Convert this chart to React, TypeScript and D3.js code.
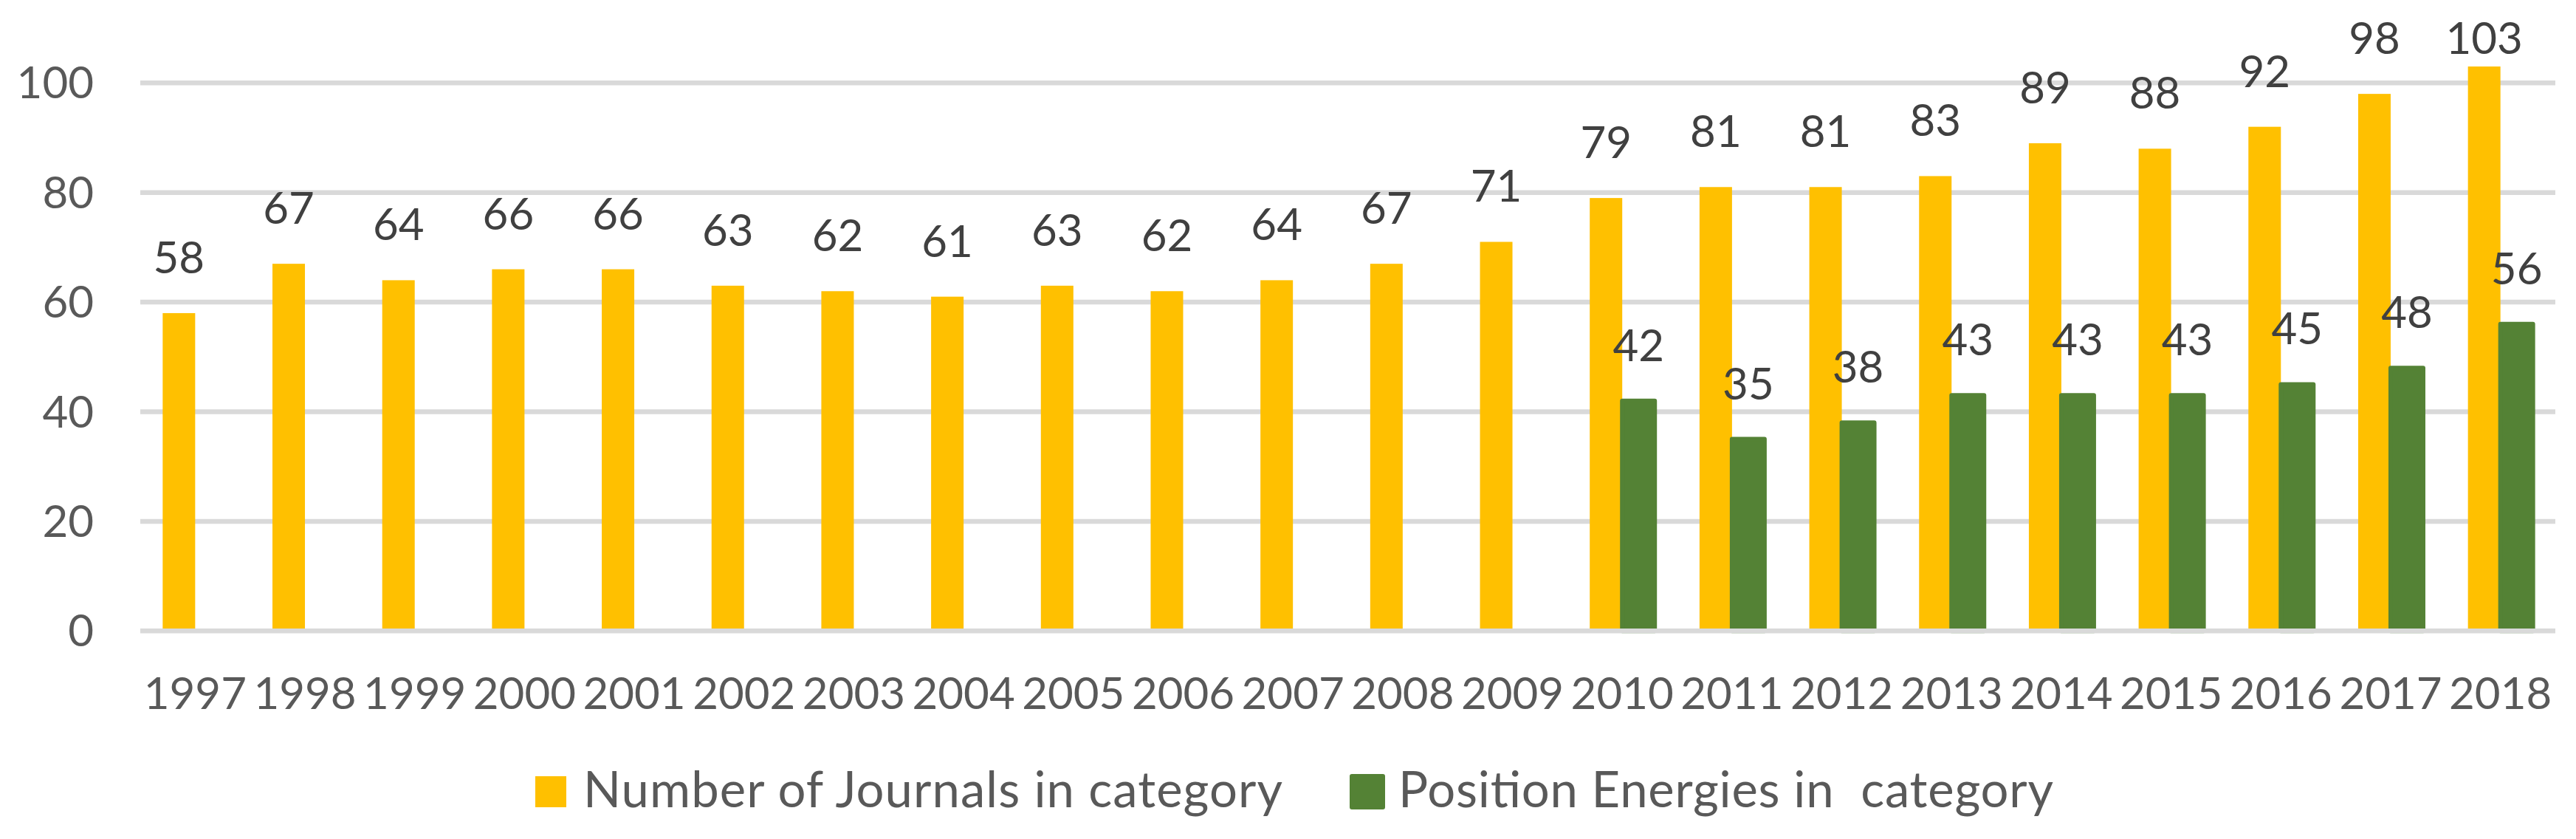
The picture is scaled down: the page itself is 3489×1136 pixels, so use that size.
import React from "react";
import * as d3 from "d3";

const years = ["1997","1998","1999","2000","2001","2002","2003","2004","2005","2006","2007","2008","2009","2010","2011","2012","2013","2014","2015","2016","2017","2018"];
const journals = [58,67,64,66,66,63,62,61,63,62,64,67,71,79,81,81,83,89,88,92,98,103];
const energies: (number | null)[] = [null,null,null,null,null,null,null,null,null,null,null,null,null,42,35,38,43,43,43,45,48,56];
const yTicks = [0,20,40,60,80,100];
const seriesNames = ["Number of Journals in category", "Position Energies in  category"];
const seriesColors = ["#FFC000", "#548235"];

const W = 3489, H = 1136;
const FONT = "Lato, 'Open Sans', sans-serif";

export default function App() {
  const x = d3.scaleBand<string>().domain(years).range([190, 3461]).padding(0);
  const bw = x.bandwidth();
  const barW = 44;
  const inner = d3.scaleBand<number>().domain([0, 1]).range([bw / 2 - barW, bw / 2 + barW]).padding(0);
  const y = d3.scaleLinear().domain([0, 100]).range([854.3, 112.3]);
  const labelY = (v: number) => Math.max(y(v) - 54, 73);

  return (
    <svg width={W} height={H} style={{ position: "absolute", left: 0, top: 0, background: "#fff" }} fontFamily={FONT}>
      <rect x={0} y={0} width={W} height={H} fill="#fff" />
      {yTicks.filter(t => t !== 0).map(t => (
        <line key={t} x1={190} x2={3461} y1={y(t)} y2={y(t)} stroke="#D9D9D9" strokeWidth={6.5} />
      ))}
      {yTicks.map(t => (
        <text key={"yl" + t} x={127} y={y(t) + 21} textAnchor="end" fontSize={60} fill="#595959">{t}</text>
      ))}
      {years.map((yr, i) => (
        <rect key={"j" + yr} x={(x(yr) as number) + (inner(0) as number)} y={y(journals[i])} width={inner.bandwidth()} height={y(0) - y(journals[i])} fill={seriesColors[0]} />
      ))}
      {years.map((yr, i) => energies[i] == null ? null : (
        <rect key={"e" + yr} x={(x(yr) as number) + (inner(1) as number)} y={y(energies[i] as number)} width={inner.bandwidth()} height={y(0) - y(energies[i] as number)} fill={seriesColors[1]} stroke={seriesColors[1]} strokeWidth={6} strokeLinejoin="round" />
      ))}
      <line x1={190} x2={3461} y1={y(0)} y2={y(0)} stroke="#D9D9D9" strokeWidth={6.5} />
      {years.map((yr, i) => (
        <text key={"jl" + yr} x={(x(yr) as number) + (inner(0) as number) + inner.bandwidth() / 2} y={labelY(journals[i])} textAnchor="middle" fontSize={60} fill="#404040">{journals[i]}</text>
      ))}
      {years.map((yr, i) => energies[i] == null ? null : (
        <text key={"el" + yr} x={(x(yr) as number) + (inner(1) as number) + inner.bandwidth() / 2} y={labelY(energies[i] as number)} textAnchor="middle" fontSize={60} fill="#404040">{energies[i]}</text>
      ))}
      {years.map(yr => (
        <text key={"xl" + yr} x={(x(yr) as number) + bw / 2} y={960} textAnchor="middle" fontSize={60} fill="#595959">{yr}</text>
      ))}
      <g>
        <rect x={725} y={1051} width={42} height={42} fill={seriesColors[0]} />
        <text x={790} y={1093} fontSize={67} fill="#595959" textLength={947} lengthAdjust="spacing" style={{ whiteSpace: "pre" }}>{seriesNames[0]}</text>
        <rect x={1831} y={1051} width={42} height={42} fill={seriesColors[1]} stroke={seriesColors[1]} strokeWidth={6} strokeLinejoin="round" />
        <text x={1894} y={1093} fontSize={67} fill="#595959" textLength={887} lengthAdjust="spacing" style={{ whiteSpace: "pre" }}>{seriesNames[1]}</text>
      </g>
    </svg>
  );
}
